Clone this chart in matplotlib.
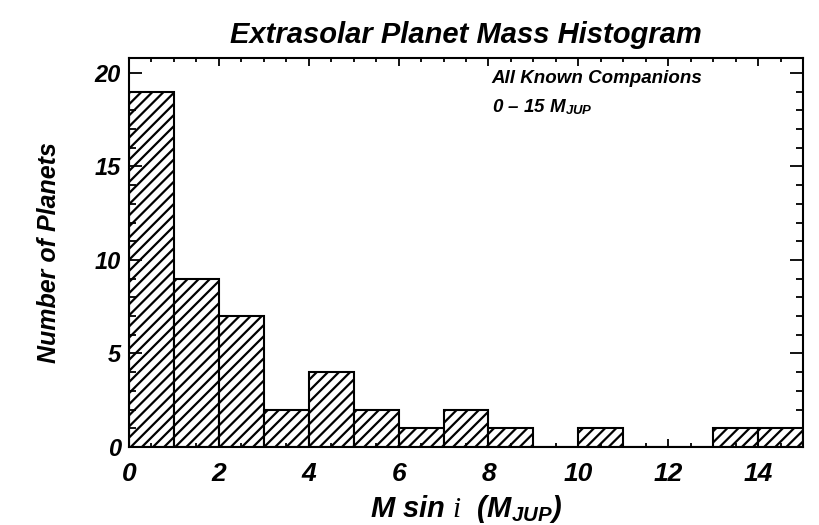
import matplotlib
matplotlib.use("Agg")
import matplotlib.pyplot as plt
import numpy as np
from matplotlib.ticker import MultipleLocator

# Data: bin edges (Jupiter masses) and planet counts per bin
bin_edges = list(range(0, 16))
counts = [19, 9, 7, 2, 4, 2, 1, 2, 1, 0, 1, 0, 0, 1, 1]
x_ticks = [0, 2, 4, 6, 8, 10, 12, 14]
y_ticks = [0, 5, 10, 15, 20]

plt.rcParams['font.family'] = ['Liberation Sans', 'DejaVu Sans']
plt.rcParams['font.weight'] = 'bold'
plt.rcParams['font.style'] = 'italic'
plt.rcParams['axes.titleweight'] = 'bold'
plt.rcParams['axes.labelweight'] = 'bold'
plt.rcParams['mathtext.fontset'] = 'custom'
plt.rcParams['mathtext.rm'] = 'Liberation Sans:bold:italic'
plt.rcParams['mathtext.it'] = 'Liberation Serif:italic:normal'
plt.rcParams['mathtext.bf'] = 'Liberation Sans:bold:italic'
plt.rcParams['hatch.linewidth'] = 1.6

fig = plt.figure(figsize=(8.2, 5.25), dpi=100)
ax = fig.add_axes([0.1573, 0.1486, 0.8220, 0.7410])

lefts = np.array(bin_edges[:-1])
widths = np.diff(bin_edges)
ax.bar(lefts, counts, width=widths, align='edge', facecolor='white',
       edgecolor='black', hatch='///', linewidth=1.5)

ax.set_xlim(0, 15)
ax.set_ylim(0, 20.8)
ax.set_xticks(x_ticks)
ax.set_yticks(y_ticks)
ax.xaxis.set_minor_locator(MultipleLocator(0.5))
ax.yaxis.set_minor_locator(MultipleLocator(1))
ax.tick_params(axis='both', which='both', direction='in', top=True, right=True,
               width=1.3, colors='black')
ax.tick_params(axis='x', which='major', length=6, pad=11, labelsize=19)
ax.tick_params(axis='x', which='minor', length=3)
ax.tick_params(axis='y', which='major', length=9.5, pad=6, labelsize=17)
ax.tick_params(axis='y', which='minor', length=4.7)
for s in ax.spines.values():
    s.set_linewidth(1.5)

ax.set_title('Extrasolar Planet Mass Histogram', fontsize=21, pad=11)
ax.set_ylabel('Number of Planets', fontsize=18, labelpad=24)
ax.set_xlabel(r'M sin $i$  (M$_{\mathrm{JUP}}$)', fontsize=21, labelpad=5)

ax.text(0.538, 0.968, 'All Known Companions', transform=ax.transAxes,
        fontsize=13.5, ha='left', va='top')
ax.text(0.538, 0.90, r'0 – 15 M$_{\mathrm{JUP}}$', transform=ax.transAxes,
        fontsize=13.5, ha='left', va='top')

fig.savefig('out.png', dpi=100)
